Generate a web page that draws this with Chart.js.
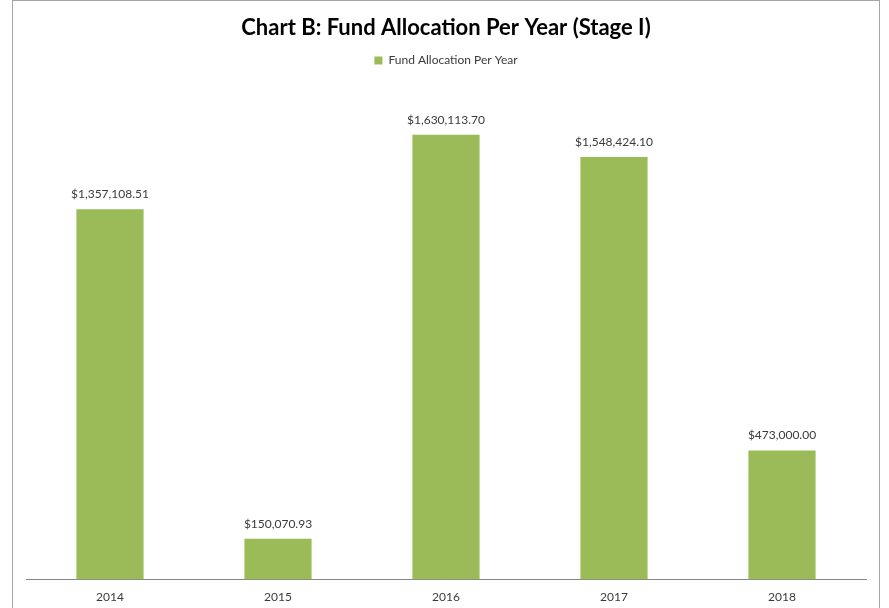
<!DOCTYPE html>
<html>
<head>
<meta charset="utf-8">
<script src="https://cdn.jsdelivr.net/npm/chart.js@4"></script>
<style>
  html, body { margin: 0; padding: 0; background: #fff; overflow: hidden; }
  #frame {
    position: absolute; left: 12px; top: 0; width: 868px; height: 640px;
    border: 1px solid #a6a6a6; box-sizing: border-box;
  }
  #wrap { position: absolute; left: 0; top: 0; width: 889px; height: 618px; }
</style>
</head>
<body>
<div id="frame"></div>
<div id="wrap"><canvas id="fundChart" width="889" height="618"></canvas></div>
<script>
// Chart data
const years = ['2014', '2015', '2016', '2017', '2018'];
const allocations = [1357108.51, 150070.93, 1630113.70, 1548424.10, 473000.00];
const seriesName = 'Fund Allocation Per Year';

const fmtMoney = (v) => '$' + v.toLocaleString('en-US', { minimumFractionDigits: 2, maximumFractionDigits: 2 });

// Value labels above each bar
const barLabels = {
    id: 'barLabels',
    afterDatasetsDraw(chart) {
        const c = chart.ctx;
        const meta = chart.getDatasetMeta(0);
        c.save();
        c.font = '12px Lato, "Open Sans", sans-serif';
        c.fillStyle = '#3a3a3a';
        c.textAlign = 'center';
        c.textBaseline = 'middle';
        meta.data.forEach((bar, i) => {
            c.fillText(fmtMoney(allocations[i]), bar.x, bar.y - 15);
        });
        c.restore();
    }
};

// extra gap under the legend
const legendGap = {
    id: 'legendGap',
    beforeInit(chart) {
        const origFit = chart.legend.fit;
        chart.legend.fit = function () {
            origFit.bind(chart.legend)();
            this.height += 12;
        };
    }
};

new Chart(document.getElementById('fundChart'), {
    type: 'bar',
    data: {
        labels: years,
        datasets: [{
            label: seriesName,
            data: allocations,
            backgroundColor: '#9bbb59',
            borderWidth: 0,
            barPercentage: 0.4,
            categoryPercentage: 1.0,
        }]
    },
    options: {
        responsive: false,
        animation: false,
        layout: { padding: { left: 26, right: 23, top: 10, bottom: 4 } },
        scales: {
            x: {
                grid: { display: false, drawTicks: false },
                border: { display: true, color: '#868686', width: 1 },
                ticks: { color: '#3a3a3a', font: { family: 'Lato, "Open Sans", sans-serif', size: 12 }, padding: 10 }
            },
            y: {
                display: false,
                min: 0,
                max: 1800000
            }
        },
        plugins: {
            title: {
                display: true,
                text: 'Chart B: Fund Allocation Per Year (Stage I)',
                color: '#000',
                font: { family: 'Lato, "Open Sans", sans-serif', size: 22, weight: 'bold' },
                padding: { top: 5, bottom: 3 }
            },
            legend: {
                labels: {
                    color: '#3a3a3a',
                    boxWidth: 8, boxHeight: 8,
                    font: { family: 'Lato, "Open Sans", sans-serif', size: 12 }
                }
            },
            tooltip: { enabled: false }
        }
    },
    plugins: [barLabels, legendGap]
});
</script>
</body>
</html>
